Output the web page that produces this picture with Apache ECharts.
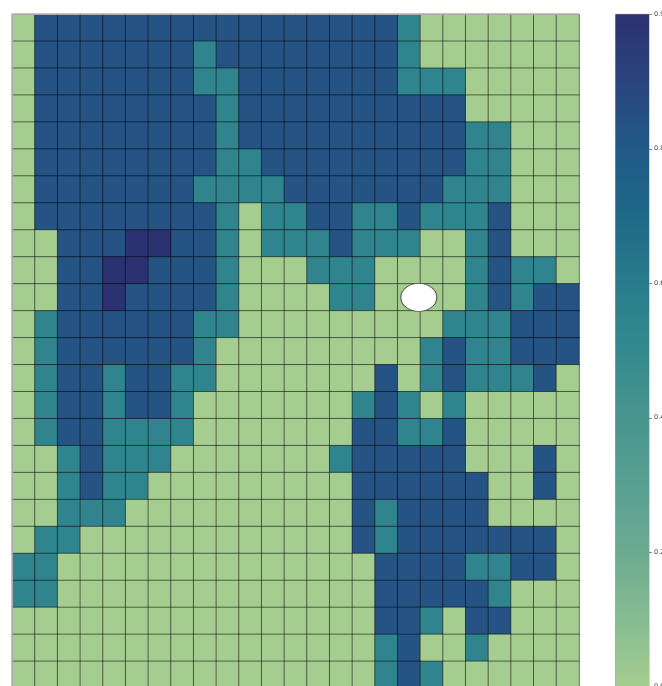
<!DOCTYPE html>
<html>
<head>
<meta charset="utf-8">
<style>
  html, body { margin: 0; padding: 0; background: #fff; overflow: hidden; height: 686px; }
  /* the figure runs a little past the bottom of the window */
  #chart { width: 662px; height: 690px; }
</style>
<script src="https://cdn.jsdelivr.net/npm/echarts@6/dist/echarts.min.js"></script>
</head>
<body>
<div id="chart"></div>
<script>
// 25 x 25 cells, top row first
const cellValues = [
  [0,.83,.83,.83,.83,.83,.83,.83,.83,.83,.83,.83,.83,.83,.83,.83,.83,.54,0,0,0,0,0,0,0],
  [0,.83,.83,.83,.83,.83,.83,.83,.54,.83,.83,.83,.83,.83,.83,.83,.83,.54,0,0,0,0,0,0,0],
  [0,.83,.83,.83,.83,.83,.83,.83,.54,.54,.83,.83,.83,.83,.83,.83,.83,.54,.54,.54,0,0,0,0,0],
  [0,.83,.83,.83,.83,.83,.83,.83,.83,.54,.83,.83,.83,.83,.83,.83,.83,.83,.83,.83,0,0,0,0,0],
  [0,.83,.83,.83,.83,.83,.83,.83,.83,.54,.83,.83,.83,.83,.83,.83,.83,.83,.83,.83,.54,.54,0,0,0],
  [0,.83,.83,.83,.83,.83,.83,.83,.83,.54,.54,.83,.83,.83,.83,.83,.83,.83,.83,.83,.54,.54,0,0,0],
  [0,.83,.83,.83,.83,.83,.83,.83,.54,.54,.54,.54,.83,.83,.83,.83,.83,.83,.83,.54,.54,.54,0,0,0],
  [0,.83,.83,.83,.83,.83,.83,.83,.83,.54,0,.54,.54,.83,.83,.54,.54,.83,.54,.54,.54,.83,0,0,0],
  [0,0,.83,.83,.83,1,1,.83,.83,.54,0,.54,.54,.54,.83,.54,.54,.54,0,0,.54,.83,0,0,0],
  [0,0,.83,.83,1,1,.83,.83,.83,.54,0,0,0,.54,.54,.54,0,0,0,0,.54,.83,.54,.54,0],
  [0,0,.83,.83,1,.83,.83,.83,.83,.54,0,0,0,0,.54,.54,0,0,0,0,.54,.83,.54,.83,.83],
  [0,.54,.83,.83,.83,.83,.83,.83,.54,.54,0,0,0,0,0,0,0,0,0,.54,.54,.54,.83,.83,.83],
  [0,.54,.83,.83,.83,.83,.83,.83,.54,0,0,0,0,0,0,0,0,0,.54,.83,.54,.54,.83,.83,.83],
  [0,.54,.83,.83,.54,.83,.83,.54,.54,0,0,0,0,0,0,0,.83,0,.54,.83,.54,.54,.54,.83,0],
  [0,.54,.83,.83,.54,.83,.83,.54,0,0,0,0,0,0,0,.54,.83,.54,0,.54,0,0,0,0,0],
  [0,.54,.83,.83,.54,.54,.54,.54,0,0,0,0,0,0,0,.83,.83,.54,.54,.83,0,0,0,0,0],
  [0,0,.54,.83,.54,.54,.54,0,0,0,0,0,0,0,.54,.83,.83,.83,.83,.83,0,0,0,.83,0],
  [0,0,.54,.83,.54,.54,0,0,0,0,0,0,0,0,0,.83,.83,.83,.83,.83,.83,0,0,.83,0],
  [0,0,.54,.54,.54,0,0,0,0,0,0,0,0,0,0,.83,.54,.83,.83,.83,.83,0,0,0,0],
  [0,.54,.54,0,0,0,0,0,0,0,0,0,0,0,0,.83,.54,.83,.83,.83,.83,.83,.83,.83,0],
  [.54,.54,0,0,0,0,0,0,0,0,0,0,0,0,0,0,.83,.83,.83,.83,.54,.54,.83,.83,0],
  [.54,.54,0,0,0,0,0,0,0,0,0,0,0,0,0,0,.83,.83,.83,.83,.83,.54,0,0,0],
  [0,0,0,0,0,0,0,0,0,0,0,0,0,0,0,0,.83,.83,.54,0,.83,.83,0,0,0],
  [0,0,0,0,0,0,0,0,0,0,0,0,0,0,0,0,.54,.83,0,0,.54,0,0,0,0],
  [0,0,0,0,0,0,0,0,0,0,0,0,0,0,0,0,.54,.83,.54,0,0,0,0,0,0]
]
const colNames = cellValues[0].map((v, i) => String(i))
const rowNames = cellValues.map((r, i) => String(i))

// white ellipse, in cell units from the top left corner
const ellipsePoint = [17.93, 10.5]

const colorbarTicks = [0, 0.2, 0.4, 0.6, 0.8, 1]
const colorbarLabels = { 0: '0.0', 0.2: '0.2', 0.4: '0.4', 0.6: '0.6', 0.8: '0.8', 1: '0.9' }
const crestColors = ['#a5cd90', '#85bc91', '#6cab91', '#58a092', '#48958f', '#348a8e', '#2a7c8c', '#1e6888', '#215a86', '#2a4480', '#2c3172']

const heatData = []
cellValues.forEach((row, y) => row.forEach((v, x) => heatData.push([x, y, v])))

// colorbar gradient, top stop first
const barGradient = crestColors.slice().reverse().map((c, i) => ({ offset: i / (crestColors.length - 1), color: c }))

const chart = echarts.init(document.getElementById('chart'), null, { renderer: 'canvas' })
chart.setOption({
  animation: false,
  backgroundColor: '#fff',
  tooltip: { show: false },
  grid: [
    { left: 12.3, top: 14.3, width: 566.8, height: 674, outerBoundsMode: 'none' },
    { left: 615.5, top: 14.3, width: 33.5, height: 672.5, outerBoundsMode: 'none', show: true, borderColor: '#aaa', borderWidth: 1, backgroundColor: 'transparent' }
  ],
  xAxis: [
    { type: 'category', data: colNames, position: 'top', gridIndex: 0, z: 5,
      axisLine: { show: true, lineStyle: { color: '#aaa', width: 1 } }, axisTick: { show: false }, axisLabel: { show: false }, splitLine: { show: false } },
    { type: 'value', min: 0, max: 25, gridIndex: 0, show: false },
    { type: 'category', data: ['bar'], gridIndex: 1, show: false }
  ],
  yAxis: [
    { type: 'category', data: rowNames, inverse: true, gridIndex: 0, z: 5,
      axisLine: { show: true, lineStyle: { color: '#aaa', width: 1 } }, axisTick: { show: false }, axisLabel: { show: false }, splitLine: { show: false } },
    { type: 'value', min: 0, max: 25, inverse: true, gridIndex: 0, show: false },
    { type: 'value', min: 0, max: 1, gridIndex: 1, position: 'right', z: 5,
      axisLine: { show: false },
      axisTick: { show: true, length: 3, customValues: colorbarTicks, lineStyle: { color: '#888', width: 1 } },
      axisLabel: { show: true, margin: 5, fontSize: 6.5, color: '#444', fontFamily: 'DejaVu Sans', customValues: colorbarTicks,
        hideOverlap: false, showMinLabel: true, showMaxLabel: true,
        formatter: v => colorbarLabels[v] },
      splitLine: { show: false } }
  ],
  visualMap: {
    show: false,
    type: 'continuous',
    seriesIndex: 0,
    min: 0,
    max: 1,
    inRange: { color: crestColors }
  },
  series: [
    {
      type: 'heatmap',
      xAxisIndex: 0,
      yAxisIndex: 0,
      data: heatData,
      silent: true,
      itemStyle: { borderColor: 'rgba(0,0,0,0.5)', borderWidth: 1 },
      emphasis: { disabled: true }
    },
    {
      type: 'scatter',
      xAxisIndex: 1,
      yAxisIndex: 1,
      z: 6,
      silent: true,
      symbol: 'circle',
      symbolSize: [36, 28],
      data: [ellipsePoint],
      itemStyle: { color: '#fff', borderColor: '#555', borderWidth: 1, opacity: 1 }
    },
    {
      type: 'bar',
      xAxisIndex: 2,
      yAxisIndex: 2,
      silent: true,
      barWidth: '100%',
      data: [1],
      itemStyle: {
        color: new echarts.graphic.LinearGradient(0, 0, 0, 1, barGradient)
      }
    }
  ]
})
</script>
</body>
</html>
